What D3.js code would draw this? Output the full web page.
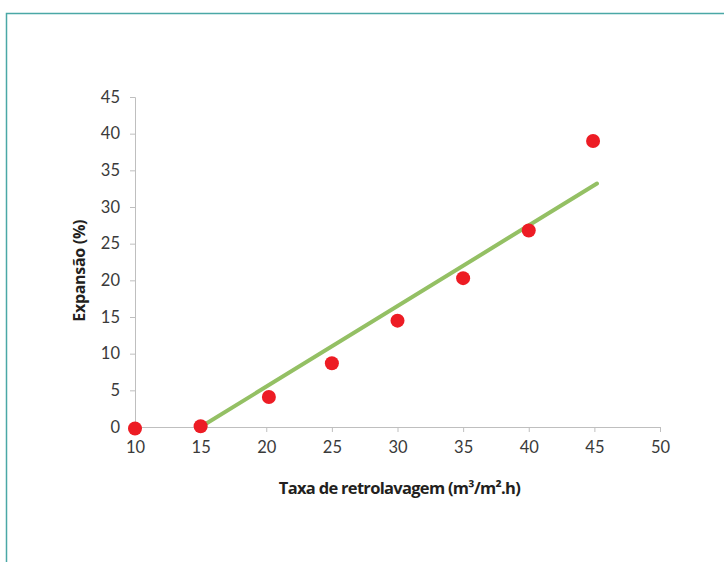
<!DOCTYPE html>
<html>
<head>
<meta charset="utf-8">
<script src="https://cdn.jsdelivr.net/npm/d3@7"></script>
<style>
  body { margin: 0; background: #fff; }
  svg { display: block; }
</style>
</head>
<body>
<div id="chart"></div>
<script>
// Measured points
const xValues = [10, 15, 20.2, 25, 30, 35, 40, 44.9];
const yValues = [-0.2, 0.1, 4.1, 8.7, 14.5, 20.3, 26.8, 39.0];

// Trend line end points
const trendX = [15, 45.2];
const trendY = [0, 33.2];

const xTicks = [10, 15, 20, 25, 30, 35, 40, 45, 50];
const yTicks = [0, 5, 10, 15, 20, 25, 30, 35, 40, 45];

const W = 724, H = 562;
const margin = { top: 97, right: 64, bottom: 135, left: 135 };
const width = W - margin.left - margin.right;
const height = H - margin.top - margin.bottom;

const svg = d3.select('#chart').append('svg')
  .attr('width', W)
  .attr('height', H);

// Teal frame (top and left edges only visible)
svg.append('path')
  .attr('d', `M6.5,${H} V13.5 H${W}`)
  .attr('fill', 'none')
  .attr('stroke', '#4aa8a6')
  .attr('stroke-width', 1.5);

const g = svg.append('g')
  .attr('transform', `translate(${margin.left},${margin.top})`);

const x = d3.scaleLinear().domain([10, 50]).range([0, width]);
const y = d3.scaleLinear().domain([0, 45]).range([height, 0]);

const tickFont = "Lato, 'Open Sans', sans-serif";
const titleFont = "'Open Sans', 'DejaVu Sans', sans-serif";

const xAxis = g.append('g')
  .attr('transform', `translate(0,${height})`)
  .call(d3.axisBottom(x).tickValues(xTicks).tickSize(5).tickPadding(9));

const yAxis = g.append('g')
  .call(d3.axisLeft(y).tickValues(yTicks).tickSize(5).tickPadding(10));

[xAxis, yAxis].forEach((a) => {
  a.select('.domain').attr('stroke', '#bfbfbf');
  a.selectAll('.tick line').attr('stroke', '#bfbfbf');
  a.selectAll('.tick text')
    .attr('fill', '#3a3a3a')
    .style('font-family', tickFont)
    .style('font-size', '16.5px');
});

// Axis titles
g.append('text')
  .attr('x', width / 2 + 2)
  .attr('y', height + 67)
  .attr('text-anchor', 'middle')
  .attr('fill', '#231f20')
  .style('font-family', titleFont)
  .style('font-weight', 'bold')
  .style('font-size', '16.5px')
  .style('letter-spacing', '-0.7px')
  .text('Taxa de retrolavagem (m³/m².h)');

g.append('text')
  .attr('transform', 'rotate(-90)')
  .attr('x', -(y(21.3)))
  .attr('y', -50)
  .attr('text-anchor', 'middle')
  .attr('fill', '#231f20')
  .style('font-family', titleFont)
  .style('font-weight', 'bold')
  .style('font-size', '16px')
  .style('letter-spacing', '-0.3px')
  .text('Expansão (%)');

// Trend line
const trend = trendX.map((d, i) => ({ x: d, y: trendY[i] }));
g.append('path')
  .datum(trend)
  .attr('fill', 'none')
  .attr('stroke', '#94c064')
  .attr('stroke-width', 4)
  .attr('stroke-linecap', 'round')
  .attr('d', d3.line().x((d) => x(d.x)).y((d) => y(d.y)));

// Points
const points = xValues.map((d, i) => ({ x: d, y: yValues[i] }));
g.selectAll('.pt')
  .data(points)
  .enter()
  .append('circle')
  .attr('class', 'pt')
  .attr('cx', (d) => x(d.x))
  .attr('cy', (d) => y(d.y))
  .attr('r', 7)
  .attr('fill', '#ed1c24');
</script>
</body>
</html>
